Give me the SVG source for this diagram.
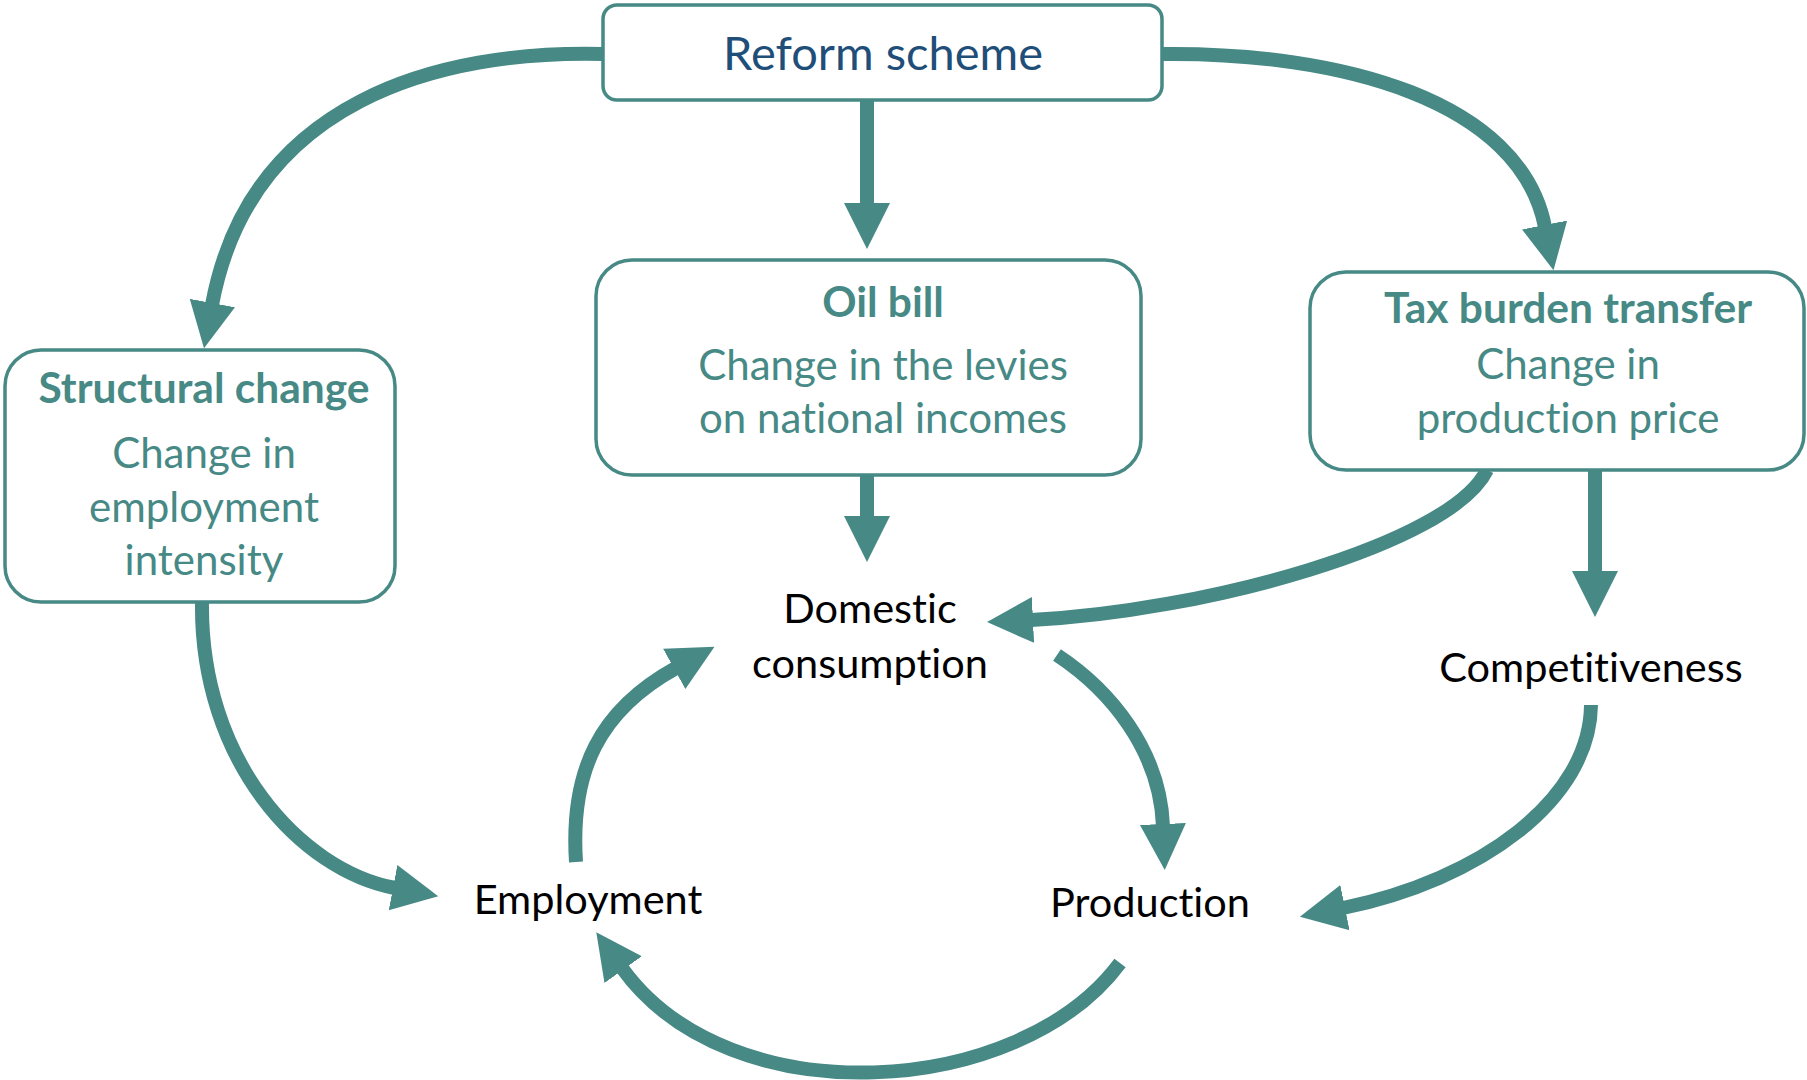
<svg xmlns="http://www.w3.org/2000/svg" width="1807" height="1080" viewBox="0 0 1807 1080">
  <style>
    text { font-variant-ligatures: none; }
    .box { fill: #ffffff; stroke: #468985; stroke-width: 3.5; }
    .title { font-family: Lato, "Liberation Sans", sans-serif; font-weight: bold; font-size: 42.5px; fill: #468985; text-anchor: middle; }
    .sub { font-family: Lato, "Liberation Sans", sans-serif; font-size: 42px; fill: #468985; text-anchor: middle; }
    .label { font-family: Lato, "Liberation Sans", sans-serif; font-size: 41.5px; fill: #000000; text-anchor: middle; }
    .top { font-family: Lato, "Liberation Sans", sans-serif; font-size: 47px; fill: #1f4e79; text-anchor: middle; }
    .link { fill: none; stroke: #468985; stroke-width: 14; stroke-linecap: butt; marker-end: url(#head); }
  </style>
  <defs>
    <marker id="head" markerUnits="userSpaceOnUse" markerWidth="50" markerHeight="50" viewBox="0 -25 50 50" refX="2" refY="0" orient="auto">
      <path d="M0,-23 L46,0 L0,23 z" fill="#468985"/>
    </marker>
  </defs>

  <rect width="1807" height="1080" fill="#ffffff"/>

  <!-- connectors -->
  <g id="connectors">
    <path class="link" d="M867,100 V205"/>
    <path class="link" d="M603,54 C440,50 250,100 212,305"/>
    <path class="link" d="M1162,54 C1340,52 1520,100 1545,227"/>
    <path class="link" d="M867,475 V518"/>
    <path class="link" d="M1487,470 C1450,545 1200,612 1031,620"/>
    <path class="link" d="M1595,470 V573"/>
    <path class="link" d="M202,602 C200,760 300,870 395,888"/>
    <path class="link" d="M576,862 C570,770 600,710 676,668"/>
    <path class="link" d="M1057,655 C1110,690 1160,750 1163,826"/>
    <path class="link" d="M1120,963 C1020,1098 730,1118 622,968"/>
    <path class="link" d="M1591,705 C1590,800 1480,880 1343,908"/>
  </g>

  <!-- boxed nodes -->
  <g id="reform-scheme">
    <rect class="box" x="603" y="5" width="559" height="95" rx="14"/>
    <text class="top" x="883" y="70">Reform scheme</text>
  </g>

  <g id="structural-change">
    <rect class="box" x="5" y="350" width="390" height="252" rx="36"/>
    <text class="title" x="204" y="403">Structural change</text>
    <text class="sub" x="204" y="468">Change in</text>
    <text class="sub" x="204" y="522">employment</text>
    <text class="sub" x="204" y="575">intensity</text>
  </g>

  <g id="oil-bill">
    <rect class="box" x="596" y="260" width="545" height="215" rx="36"/>
    <text class="title" x="883" y="317">Oil bill</text>
    <text class="sub" x="883" y="380">Change in the levies</text>
    <text class="sub" x="883" y="433">on national incomes</text>
  </g>

  <g id="tax-burden-transfer">
    <rect class="box" x="1310" y="272" width="494" height="198" rx="36"/>
    <text class="title" x="1568" y="323">Tax burden transfer</text>
    <text class="sub" x="1568" y="379">Change in</text>
    <text class="sub" x="1568" y="433">production price</text>
  </g>

  <!-- plain nodes -->
  <g id="domestic-consumption">
    <text class="label" x="870" y="623">Domestic</text>
    <text class="label" x="870" y="678">consumption</text>
  </g>
  <g id="competitiveness">
    <text class="label" x="1591" y="682">Competitiveness</text>
  </g>
  <g id="employment">
    <text class="label" x="588" y="914">Employment</text>
  </g>
  <g id="production">
    <text class="label" x="1150" y="917">Production</text>
  </g>
</svg>
